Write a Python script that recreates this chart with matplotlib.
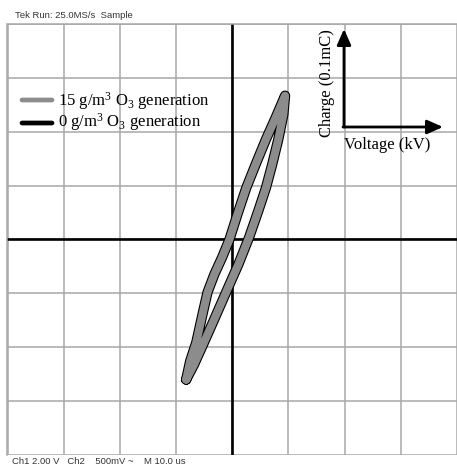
import matplotlib
matplotlib.use("Agg")
import matplotlib.pyplot as plt

plt.rcParams['mathtext.fontset'] = 'custom'
plt.rcParams['mathtext.rm'] = 'Liberation Serif'
plt.rcParams['mathtext.it'] = 'Liberation Serif:italic'

# Lissajous (Q-V) loop vertices, in oscilloscope divisions
loop_x = [-0.82, -0.75, -0.64, -0.53, -0.44, -0.32, -0.18, -0.05, 0.09, 0.25,
          0.43, 0.60, 0.78, 0.94,
          0.91, 0.82, 0.71, 0.60, 0.46, 0.30, 0.11, -0.11, -0.32, -0.52, -0.68, -0.82]
loop_y = [-2.60, -2.26, -1.91, -1.39, -0.98, -0.65, -0.33, 0.00, 0.46, 0.96,
          1.43, 1.86, 2.28, 2.67,
          2.32, 1.86, 1.39, 0.96, 0.52, 0.04, -0.46, -0.98, -1.48, -1.95, -2.32, -2.60]

series_labels = ["15 g/m$^3$ O$_3$ generation", "0 g/m$^3$ O$_3$ generation"]
series_colors = ["#8c8c8c", "#000000"]

header_text = "Tek Run: 25.0MS/s  Sample"
footer_text = "Ch1 2.00 V   Ch2    500mV ~    M 10.0 us"
x_label = "Voltage (kV)"
y_label = "Charge (0.1mC)"

W, H = 457, 465
fig = plt.figure(figsize=(W / 100, H / 100), dpi=100)
left, right, top, bottom = 7.5, 457.0, 24.0, 455.0
ax = fig.add_axes([left / W, 1 - bottom / H, (right - left) / W, (bottom - top) / H])
ax.set_xlim(-4, 4)
ax.set_ylim(-4, 4)
ax.set_xticks(range(-4, 5))
ax.set_yticks(range(-4, 5))
ax.tick_params(length=0, labelbottom=False, labelleft=False)
ax.grid(True, color="#a8a8a8", lw=1.1)
for s in ["right", "bottom"]:
    ax.spines[s].set_visible(False)
for s in ["top", "left"]:
    ax.spines[s].set_color("#a8a8a8")
    ax.spines[s].set_linewidth(1.1)
ax.axhline(0, color="black", lw=1.9, zorder=2)
ax.axvline(0, color="black", lw=1.9, zorder=2)

# loop: black trace under gray trace
ax.plot(loop_x, loop_y, color=series_colors[1], lw=7.4, solid_joinstyle="round",
        solid_capstyle="round", zorder=3)
ax.plot(loop_x, loop_y, color=series_colors[0], lw=5.8, solid_joinstyle="round",
        solid_capstyle="round", zorder=4)


def fp(x, y):
    return (x, H - y)


serif = "Liberation Serif"
# legend
ax.annotate("", xy=fp(52, 100), xytext=fp(22, 100), xycoords="figure pixels",
            arrowprops=dict(arrowstyle="-", color=series_colors[0], lw=3.4, shrinkA=0, shrinkB=0))
ax.annotate("", xy=fp(52, 123), xytext=fp(22, 123), xycoords="figure pixels",
            arrowprops=dict(arrowstyle="-", color=series_colors[1], lw=3.4, shrinkA=0, shrinkB=0))
fig.text(58 / W, 1 - 106 / H, series_labels[0], family=serif, fontsize=12, va="baseline", ha="left")
fig.text(58 / W, 1 - 127 / H, series_labels[1], family=serif, fontsize=12, va="baseline", ha="left")

# inset axes arrows
ax.annotate("", xy=fp(344, 29), xytext=fp(344, 127), xycoords="figure pixels",
            arrowprops=dict(arrowstyle="-|>,head_length=0.95,head_width=0.42", color="black",
                            lw=2, shrinkA=0, shrinkB=0))
ax.annotate("", xy=fp(443, 127), xytext=fp(343, 127), xycoords="figure pixels",
            arrowprops=dict(arrowstyle="-|>,head_length=0.95,head_width=0.42", color="black",
                            lw=2, shrinkA=0, shrinkB=0))
fig.text(327 / W, 1 - 83 / H, y_label, family=serif, fontsize=12, rotation=90,
         ha="center", va="center")
fig.text(387 / W, 1 - 145 / H, x_label, family=serif, fontsize=12, ha="center", va="center")

fig.text(15 / W, 1 - 15 / H, header_text, family="Liberation Sans", fontsize=6.8,
         color="#333333", ha="left", va="center")
fig.text(12 / W, 1 - 461 / H, footer_text, family="Liberation Sans", fontsize=6.8,
         color="#333333", ha="left", va="center")

fig.savefig("out.png", dpi=100)
